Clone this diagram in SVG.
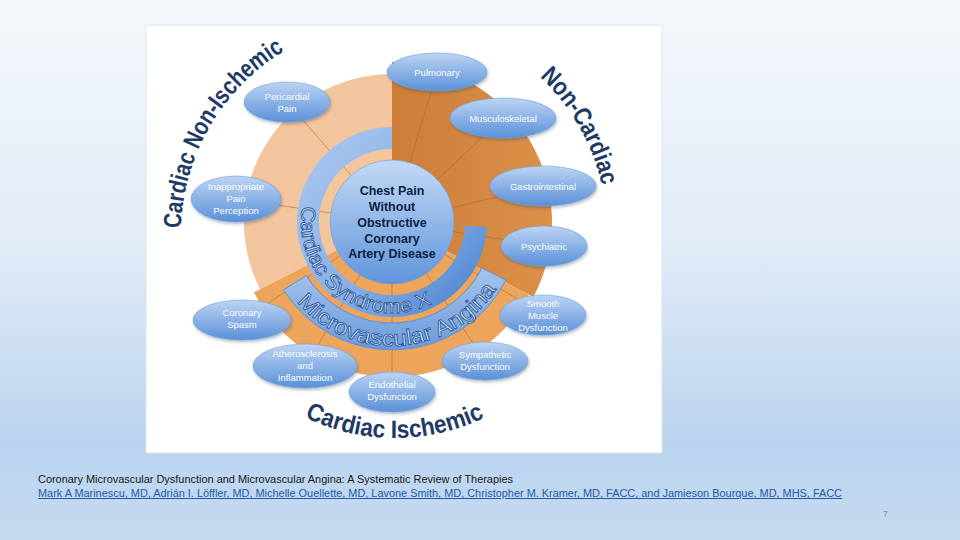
<svg xmlns="http://www.w3.org/2000/svg" xmlns:xlink="http://www.w3.org/1999/xlink" width="960" height="540" viewBox="0 0 960 540">
  <defs>
    <linearGradient id="bg" x1="0" y1="0" x2="0" y2="1">
      <stop offset="0" stop-color="#f4f8fc"/>
      <stop offset="0.45" stop-color="#e2ecf7"/>
      <stop offset="0.82" stop-color="#bad4ee"/>
      <stop offset="1" stop-color="#c5daf0"/>
    </linearGradient>
    <linearGradient id="node" x1="0" y1="0" x2="0" y2="1">
      <stop offset="0" stop-color="#bcd4f3"/>
      <stop offset="1" stop-color="#5a90d8"/>
    </linearGradient>
    <linearGradient id="hub" x1="0" y1="0" x2="0" y2="1">
      <stop offset="0" stop-color="#c3d9f5"/>
      <stop offset="1" stop-color="#5f95db"/>
    </linearGradient>
    <linearGradient id="bandX" gradientUnits="userSpaceOnUse" x1="300" y1="140" x2="470" y2="310">
      <stop offset="0" stop-color="#aac8ef"/>
      <stop offset="0.6" stop-color="#86ade4"/>
      <stop offset="1" stop-color="#4b84d0"/>
    </linearGradient>
    <linearGradient id="bandM" x1="0" y1="0" x2="0" y2="1">
      <stop offset="0" stop-color="#a6c4ec"/>
      <stop offset="1" stop-color="#6a99da"/>
    </linearGradient>
    <linearGradient id="nonCard" gradientUnits="userSpaceOnUse" x1="392" y1="0" x2="555" y2="0">
      <stop offset="0" stop-color="#cc7d38"/>
      <stop offset="1" stop-color="#dc9149"/>
    </linearGradient>
    <filter id="sh" x="-20%" y="-20%" width="140%" height="160%">
      <feDropShadow dx="1" dy="2" stdDeviation="1.5" flood-color="#2a3f5e" flood-opacity="0.35"/>
    </filter>
    <path id="pNonIsch" d="M181.0,228.3 A214,214 0 0 1 283.5,51.5"/>
    <path id="pNonCard" d="M539.6,77.0 A212,212 0 0 1 602.4,187.9"/>
    <path id="pIsch" d="M304.7,417.2 A206,206 0 0 0 488.5,415.5"/>
    <path id="pX" d="M302.4,206.2 A91,91 0 0 0 434.7,302.3"/>
    <path id="pM" d="M297.0,301.7 A124,124 0 0 0 499.4,284.0"/>
    <style>
      .nt { font-family: "Liberation Sans", Arial, sans-serif; font-size: 9.5px; fill: #ffffff; text-anchor: middle; }
      .ne { fill: url(#node); stroke: #6f9fdc; stroke-width: 0.6; filter: url(#sh); }
      .lab { font-family: "Liberation Sans", Arial, sans-serif; font-weight: bold; font-size: 25px; fill: #1e3a66; }
      .arc { font-family: "Liberation Sans", Arial, sans-serif; fill: #eaf2fc; stroke: #2b5a9c; stroke-width: 0.9; }
      .spoke { stroke: #a8622a; stroke-opacity: 0.55; stroke-width: 1; fill: none; }
      .hubt { font-family: "Liberation Sans", Arial, sans-serif; font-weight: bold; font-size: 12.5px; fill: #0f2242; text-anchor: middle; }
    </style>
  </defs>

  <rect x="0" y="0" width="960" height="540" fill="url(#bg)"/>
  <rect x="146" y="25" width="516" height="428" fill="#ffffff" stroke="#dde5ee" stroke-width="1"/>

  <g id="sectors">
    <path d="M392,222 L260.1,289.2 A148,148 0 0 1 392,74 Z" fill="#f3c59d"/>
    <path d="M392,222 L392,62 A160,160 0 0 1 533.3,297.1 Z" fill="url(#nonCard)"/>
    <path d="M392,222 L528.9,294.8 A155,155 0 0 1 253.9,292.4 Z" fill="#eda55c"/>
  </g>

  <g id="connectors">
    <line class="spoke" x1="392" y1="222" x2="437" y2="72"/>
    <line class="spoke" x1="392" y1="222" x2="503" y2="118"/>
    <line class="spoke" x1="392" y1="222" x2="543" y2="186"/>
    <line class="spoke" x1="392" y1="222" x2="544" y2="246"/>
    <line class="spoke" x1="392" y1="222" x2="543" y2="315"/>
    <line class="spoke" x1="392" y1="222" x2="485" y2="361"/>
    <line class="spoke" x1="392" y1="222" x2="392" y2="392"/>
    <line class="spoke" x1="392" y1="222" x2="305" y2="366"/>
    <line class="spoke" x1="392" y1="222" x2="242" y2="320"/>
    <line class="spoke" x1="392" y1="222" x2="236" y2="199"/>
    <line class="spoke" x1="392" y1="222" x2="287" y2="102"/>
  </g>

  <g id="band-syndrome-x">
    <path d="M392,127 A95,95 0 1 0 486.9,227.0 L464.9,225.8 A73,73 0 1 1 392,149 Z" fill="url(#bandX)"/>
    <text class="arc" font-size="20"><textPath href="#pX" xlink:href="#pX" textLength="200" lengthAdjust="spacingAndGlyphs">Cardiac Syndrome X</textPath></text>
  </g>

  <g id="band-microvascular">
    <path d="M506.0,280.1 A128,128 0 0 1 283.5,289.8 L306.3,275.5 A101,101 0 0 0 482.0,267.9 Z" fill="url(#bandM)" stroke="#5d8fd2" stroke-width="1"/>
    <text class="arc" font-size="22"><textPath href="#pM" xlink:href="#pM" textLength="232" lengthAdjust="spacingAndGlyphs">Microvascular Angina</textPath></text>
  </g>

  <g id="hub">
    <circle cx="392" cy="222" r="62" fill="url(#hub)" stroke="#6f9fdc" stroke-width="0.6"/>
    <text class="hubt" x="392" y="195">Chest Pain</text>
    <text class="hubt" x="392" y="211">Without</text>
    <text class="hubt" x="392" y="227">Obstructive</text>
    <text class="hubt" x="392" y="243">Coronary</text>
    <text class="hubt" x="392" y="258">Artery Disease</text>
  </g>

  <g id="n-pulmonary"><ellipse class="ne" cx="437" cy="72" rx="50" ry="19"/><text class="nt" x="437" y="76">Pulmonary</text></g>
  <g id="n-musculoskeletal"><ellipse class="ne" cx="503" cy="118" rx="53" ry="20"/><text class="nt" x="503" y="122">Musculoskeletal</text></g>
  <g id="n-gastrointestinal"><ellipse class="ne" cx="543" cy="186" rx="53" ry="20"/><text class="nt" x="543" y="190">Gastrointestinal</text></g>
  <g id="n-psychiatric"><ellipse class="ne" cx="544" cy="246" rx="43" ry="20"/><text class="nt" x="544" y="250">Psychiatric</text></g>
  <g id="n-smooth-muscle"><ellipse class="ne" cx="543" cy="315" rx="43" ry="20"/><text class="nt" x="543" y="307">Smooth</text><text class="nt" x="543" y="319">Muscle</text><text class="nt" x="543" y="331">Dysfunction</text></g>
  <g id="n-sympathetic"><ellipse class="ne" cx="485" cy="361" rx="43" ry="19"/><text class="nt" x="485" y="358">Sympathetic</text><text class="nt" x="485" y="370">Dysfunction</text></g>
  <g id="n-endothelial"><ellipse class="ne" cx="392" cy="392" rx="43" ry="20"/><text class="nt" x="392" y="388">Endothelial</text><text class="nt" x="392" y="400">Dysfunction</text></g>
  <g id="n-atherosclerosis"><ellipse class="ne" cx="305" cy="366" rx="52" ry="22"/><text class="nt" x="305" y="357">Atherosclerosis</text><text class="nt" x="305" y="369">and</text><text class="nt" x="305" y="381">Inflammation</text></g>
  <g id="n-coronary-spasm"><ellipse class="ne" cx="242" cy="320" rx="49" ry="20"/><text class="nt" x="242" y="316">Coronary</text><text class="nt" x="242" y="328">Spasm</text></g>
  <g id="n-inappropriate"><ellipse class="ne" cx="236" cy="199" rx="45" ry="23"/><text class="nt" x="236" y="190">Inappropriate</text><text class="nt" x="236" y="202">Pain</text><text class="nt" x="236" y="214">Perception</text></g>
  <g id="n-pericardial"><ellipse class="ne" cx="287" cy="102" rx="43" ry="20"/><text class="nt" x="287" y="100">Pericardial</text><text class="nt" x="287" y="112">Pain</text></g>

  <g id="labels">
    <text class="lab"><textPath href="#pNonIsch" xlink:href="#pNonIsch" textLength="214" lengthAdjust="spacingAndGlyphs">Cardiac Non-Ischemic</textPath></text>
    <text class="lab"><textPath href="#pNonCard" xlink:href="#pNonCard" textLength="127" lengthAdjust="spacingAndGlyphs">Non-Cardiac</textPath></text>
    <text class="lab"><textPath href="#pIsch" xlink:href="#pIsch" textLength="186" lengthAdjust="spacingAndGlyphs">Cardiac Ischemic</textPath></text>
  </g>

  <g id="footer" font-family="Liberation Sans, Arial, sans-serif">
    <text x="38" y="483" font-size="10" fill="#1a1a1a" textLength="475" lengthAdjust="spacingAndGlyphs">Coronary Microvascular Dysfunction and Microvascular Angina: A Systematic Review of Therapies</text>
    <text x="38" y="497" font-size="10" fill="#1f5ba6" text-decoration="underline" textLength="804" lengthAdjust="spacingAndGlyphs">Mark A Marinescu, MD, Adrián I. Löffler, MD, Michelle Ouellette, MD, Lavone Smith, MD, Christopher M. Kramer, MD, FACC, and Jamieson Bourque, MD, MHS, FACC</text>
    <text x="883" y="517" font-size="9" fill="#8795a5">7</text>
  </g>
</svg>
